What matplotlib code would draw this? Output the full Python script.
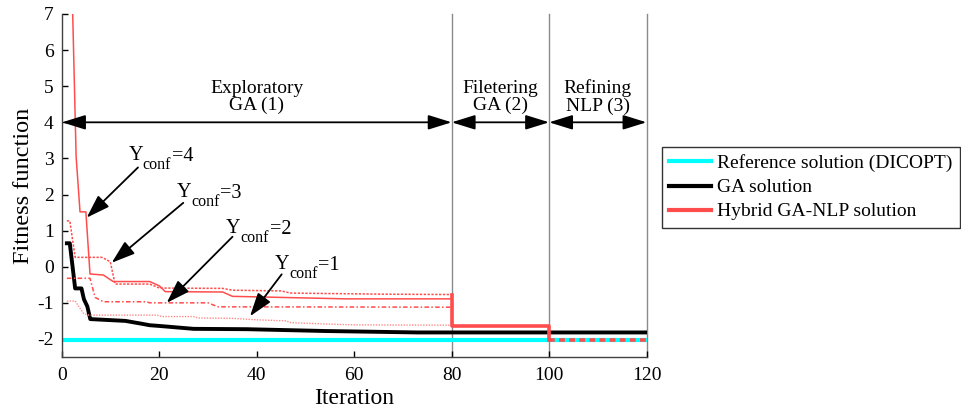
import matplotlib
matplotlib.use("Agg")
import matplotlib.pyplot as plt
from matplotlib.lines import Line2D
from matplotlib.transforms import offset_copy

plt.rcParams['font.family'] = ['Liberation Serif', 'DejaVu Serif']
plt.rcParams['axes.unicode_minus'] = False

# ---------------- data ----------------
ref_iter = [0, 120]
ref_fit = [-2.04, -2.04]

ga_iter = [1, 1.6, 2.7, 4.0, 4.5, 5.2, 5.8, 13, 16, 18, 20, 27, 38, 54, 73, 120]
ga_fit = [0.65, 0.65, -0.6, -0.6, -0.9, -1.1, -1.45, -1.5, -1.57, -1.62, -1.64, -1.72, -1.73, -1.78, -1.82, -1.82]

y4_iter = [2.0, 2.9, 3.7, 4.9, 5.75, 8.5, 10.5, 18, 20, 21.2, 33, 35, 58.5, 80]
y4_fit = [8.1, 3.05, 1.52, 1.52, -0.2, -0.23, -0.41, -0.41, -0.53, -0.69, -0.7, -0.82, -0.89, -0.89]

y3_iter = [1, 1.6, 2.7, 8.2, 9.9, 10.9, 18, 20, 33, 35, 45, 47, 66, 80]
y3_fit = [1.27, 1.27, 0.26, 0.26, 0.14, -0.48, -0.48, -0.59, -0.6, -0.65, -0.67, -0.73, -0.76, -0.77]

y2_iter = [1, 5.75, 6.8, 8.5, 17.4, 18, 30, 32, 80]
y2_fit = [-0.32, -0.32, -0.85, -0.97, -0.97, -1.0, -1.0, -1.11, -1.12]

y1_iter = [1, 2.7, 4.4, 5.5, 19.5, 20.5, 27, 28, 35, 40, 46, 47, 55, 60, 80]
y1_fit = [-0.95, -0.95, -1.29, -1.34, -1.34, -1.38, -1.38, -1.42, -1.43, -1.47, -1.5, -1.55, -1.59, -1.61, -1.62]

hyb_iter = [80, 80, 100, 100]
hyb_fit = [-0.77, -1.63, -1.63, -2.04]
nlp_iter = [100, 120]
nlp_fit = [-2.04, -2.04]

phase_bounds = [0, 80, 100, 120]
phase_labels = ["Exploratory\nGA (1)", "Filetering\nGA (2)", "Refining\nNLP (3)"]
phase_arrow_y = 4
phase_text_y = 4.7

conf_values = ["4", "3", "2", "1"]
conf_text_xy = [(13.6, 2.95), (23.5, 1.94), (33.7, 0.94), (43.7, -0.07)]
conf_arrow_from = [(15.6, 2.75), (24.9, 1.77), (35.0, 0.83), (45.1, -0.21)]
conf_arrow_to = [(5.07, 1.36), (10.2, 0.11), (21.5, -1.0), (38.6, -1.37)]

legend_labels = ["Reference solution (DICOPT)", "GA solution", "Hybrid GA-NLP solution"]
xticks = [0, 20, 40, 60, 80, 100, 120]
yticks = [-2, -1, 0, 1, 2, 3, 4, 5, 6, 7]

RED = '#ff4d4d'
RED_LIGHT = '#ff8c8c'

# ---------------- figure ----------------
fig = plt.figure(figsize=(9.61, 4.09), dpi=100)
ax = fig.add_axes([62/961, 1-357/409, 584.5/961, 343/409])

ax.plot(ref_iter, ref_fit, color='#00ffff', lw=3.0, zorder=2)
ax.plot(ga_iter, ga_fit, color='black', lw=2.8, zorder=3)
ax.plot(y4_iter, y4_fit, color=RED, lw=1.1, ls='-', zorder=4)
ax.plot(y3_iter, y3_fit, color=RED, lw=1.1, ls=(0, (1.5, 1)), zorder=4)
ax.plot(y2_iter, y2_fit, color=RED, lw=1.1, ls=(0, (3, 1.5, 1, 1.5)), zorder=4)
ax.plot(y1_iter, y1_fit, color=RED_LIGHT, lw=1.0, ls=(0, (1, 1)), zorder=4)
ax.plot(hyb_iter, hyb_fit, color=RED, lw=2.6, zorder=5)
ax.plot(nlp_iter, nlp_fit, color=RED, lw=2.6, ls=(0, (1.6, 1.2)), zorder=5)

for xb in phase_bounds[1:]:
    ax.axvline(xb, color='#8a8a8a', lw=1.0, zorder=1, clip_on=False)

for i in range(3):
    ax.annotate('', xy=(phase_bounds[i+1], phase_arrow_y), xytext=(phase_bounds[i], phase_arrow_y),
                arrowprops=dict(arrowstyle='<|-|>,head_length=0.9,head_width=0.28', color='black',
                                lw=1.3, shrinkA=0, shrinkB=0, mutation_scale=16),
                annotation_clip=False, zorder=6)
    ax.text((phase_bounds[i] + phase_bounds[i+1]) / 2, phase_text_y, phase_labels[i],
            ha='center', va='center', fontsize=14, linespacing=1.0, zorder=6)

renderer = fig.canvas.get_renderer()
for val, txy, a0, a1 in zip(conf_values, conf_text_xy, conf_arrow_from, conf_arrow_to):
    t1 = ax.text(txy[0], txy[1], 'Y', ha='left', va='baseline', fontsize=14.5, zorder=7)
    w1 = t1.get_window_extent(renderer).width
    tr2 = offset_copy(ax.transData, fig=fig, x=w1, y=-9, units='dots')
    t2 = ax.text(txy[0], txy[1], 'conf', ha='left', va='baseline', fontsize=11.5,
                 transform=tr2, zorder=7)
    w2 = t2.get_window_extent(renderer).width
    tr3 = offset_copy(ax.transData, fig=fig, x=w1 + w2 + 0.5, y=-1, units='dots')
    ax.text(txy[0], txy[1], '=' + val, ha='left', va='baseline', fontsize=14.5,
            transform=tr3, zorder=7)
    ax.annotate('', xy=a1, xytext=a0,
                arrowprops=dict(arrowstyle='-|>,head_length=0.9,head_width=0.3', color='black',
                                lw=1.3, shrinkA=0, shrinkB=0, mutation_scale=16), zorder=7)

ax.set_xlim(0, 120)
ax.set_ylim(-2.5, 7)
ax.set_xticks(xticks)
ax.set_yticks(yticks)
ax.tick_params(direction='in', length=4, width=1, labelsize=14, colors='black', pad=6)
ax.tick_params(axis='x', pad=7)
for s in ['top', 'right']:
    ax.spines[s].set_visible(False)
for s in ['left', 'bottom']:
    ax.spines[s].set_color('#404040')
    ax.spines[s].set_linewidth(1.0)

ax.set_xlabel('Iteration', fontsize=17, labelpad=3)
ax.set_ylabel('Fitness function', fontsize=17.5, labelpad=2)

handles = [Line2D([], [], color='#00ffff', lw=3),
           Line2D([], [], color='black', lw=3),
           Line2D([], [], color=RED, lw=3)]
leg = fig.legend(handles, legend_labels, loc='upper left', bbox_to_anchor=(662/961, 1-147/409),
                 borderaxespad=0, fontsize=14, frameon=True, fancybox=False,
                 handlelength=2.15, handletextpad=0.3, labelspacing=0.33, borderpad=0.38)
leg.get_frame().set_edgecolor('black')
leg.get_frame().set_linewidth(1.0)

fig.savefig('out.png', dpi=100)
